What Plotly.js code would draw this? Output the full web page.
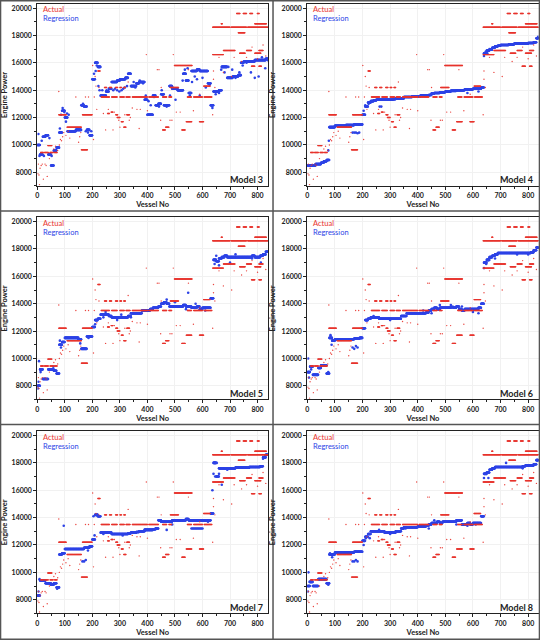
<!DOCTYPE html>
<html>
<head>
<meta charset="utf-8">
<script src="https://cdn.plot.ly/plotly-3.0.1.min.js"></script>
<style>
html,body{margin:0;padding:0;background:#fff;}
#chart{width:540px;height:640px;}
</style>
</head>
<body>
<div id="chart"></div>
<script>
// ---------------- DATA ----------------
const modelNames = ["Model 3", "Model 4", "Model 5", "Model 6", "Model 7", "Model 8"];
const vesselMax = 837;
const blockSize = 10;

// Actual engine power: runs of vessels at the same value
const actRunStart = [12, 26, 46, 62, 38, 78, 108, 164, 160, 220,
  232, 270, 300, 322, 345, 405, 455, 478, 545, 568, 606,
  244, 262, 284, 300, 314, 483,
  255, 268, 285, 325, 290, 305, 314,
  455, 466, 498, 525, 541, 589, 604, 637,
  637, 704, 764, 676, 760, 805, 735, 790, 730,
  724, 748, 772, 799, 790, 668, 778, 805];
const actRunEnd = [22, 40, 58, 72, 53, 105, 160, 199, 182, 228,
  262, 290, 316, 337, 400, 440, 470, 488, 560, 600, 634,
  252, 270, 292, 306, 320, 513,
  262, 275, 292, 335, 300, 312, 322,
  465, 478, 562, 537, 561, 604, 628, 676,
  700, 760, 837, 718, 778, 820, 755, 812, 754,
  736, 760, 782, 806, 832, 672, 790, 814];
const actRunLevel = [9450, 9450, 9450, 9450, 9950, 12200, 11300, 12200, 9650, 15400,
  13500, 13500, 13500, 13500, 13500, 13500, 13500, 13500, 13500, 13500, 13500,
  14200, 14200, 14200, 14200, 14200, 14200,
  12300, 12400, 12200, 12200, 12000, 11700, 11300,
  11100, 11300, 15800, 11100, 11700, 11700, 14300, 16600,
  18600, 18600, 18600, 16900, 16900, 16900, 16700, 16700, 18200,
  19600, 19600, 19600, 19600, 18850, 18850, 15750, 15750];
// Actual: isolated points
const actPtX = [2, 4, 6, 8, 10, 14, 18, 22, 28, 32, 36, 44, 60, 66, 74, 78, 80, 84, 88, 92,
  96, 104, 112, 118, 140, 150, 154, 158, 175, 186, 201, 204, 207, 210, 213, 216, 224, 240, 248, 258,
  275, 280, 296, 300, 318, 330, 334, 338, 345, 362, 370, 374, 396, 400, 436, 442, 448, 450, 482, 489,
  494, 505, 519, 549, 567, 590, 637, 640, 640, 645, 660, 676, 706, 715, 742, 760, 780, 800, 810, 820, 830];
const actPtY = [7900, 8600, 7800, 7100, 8300, 8500, 8600, 7500, 8600, 8500, 7700, 9000, 9700, 9900, 9600, 13900, 10000, 10400, 10300, 10600,
  10900, 10700, 11000, 10500, 13500, 10200, 10600, 10900, 13500, 13500, 15800, 10400, 13500, 15000, 14300, 12600, 14200, 12300, 11100, 12600,
  11100, 12400, 11800, 11300, 12200, 14600, 11800, 12000, 12700, 12600, 11200, 12600, 16600, 12500, 15500, 15500, 11800, 14200, 11800, 11800,
  16600, 12400, 12400, 15500, 12500, 13700, 12200, 15400, 14800, 14200, 16400, 15300, 15000, 16400, 16100, 16400, 17150, 16300, 16700, 17300, 16500];

// Regression: value for each block of 10 vessels (0-9, 10-19, ...)
const reg3 = [10000, 9300, 10600, 10700, 9300, 8500, 9600, 9800, 10900, 12500,
  12000, 11000, 11000, 11000, 11100, 11100, 12900, 12800, 11100, 10700,
  14800, 16000, 15700, 13600, 13600, 13900, 14100, 14600, 14600, 14700,
  14800, 14800, 14900, 15200, 14300, 14300, 14500, 14600, 14600, 13300,
  12200, 12200, 13600, 12900, 13000, 13700, 12900, 12900, 14300, 14100,
  14100, 14000, 14000, 15200, 14700, 13800, 15400, 15400, 15500, 15400,
  15400, 15400, 14500, 12900, 13900, 13900, 14000, 15700, 15700, 14900,
  14900, 15000, 15000, 15100, 16000, 16100, 16100, 16100, 16100, 16200,
  16200, 16200, 16200, 16300];
const reg4 = [8500, 8500, 8500, 8600, 8600, 8700, 8800, 8900, 11300, 11300,
  11400, 11400, 11400, 11400, 11450, 11450, 11450, 11500, 11500, 11500,
  12200, 12800, 13100, 13200, 13250, 13300, 13300, 13300, 13300, 13300,
  13300, 13350, 13400, 13400, 13400, 13500, 13500, 13500, 13550, 13550,
  13550, 13600, 13600, 13600, 13650, 13750, 13800, 13800, 13850, 13850,
  13900, 13900, 13950, 13950, 14000, 14000, 14000, 14050, 14050, 14050,
  14100, 14100, 14100, 14200, 16700, 16900, 16950, 17100, 17200, 17250,
  17300, 17300, 17300, 17350, 17350, 17400, 17400, 17400, 17400, 17400,
  17450, 17450, 17500, 17800];
const reg5 = [8000, 9200, 8500, 8500, 9200, 9200, 9100, 8900, 11000, 11200,
  11500, 11500, 11500, 11500, 11500, 11400, 10700, 10700, 11600, 11600,
  12300, 12800, 12900, 13200, 13200, 13200, 13100, 13000, 13000, 13000,
  13000, 13000, 13000, 13100, 13300, 13300, 13300, 13300, 13500, 13500,
  13500, 13600, 13700, 13700, 13800, 14000, 14100, 14000, 13800, 13800,
  13800, 13800, 13800, 13900, 13800, 13800, 13700, 13700, 13800, 13600,
  13700, 13700, 13700, 14400, 17200, 17100, 17300, 17400, 17500, 17400,
  17400, 17400, 17400, 17400, 17400, 17400, 17400, 17400, 17500, 17400,
  17400, 17500, 17600, 17800];
const reg6 = [9000, 9400, 8800, 8800, 9300, 9500, 9500, 8900, 11500, 11300,
  11400, 11400, 11400, 11400, 11400, 11400, 11400, 11450, 11450, 11500,
  12200, 12800, 12900, 13000, 13000, 13000, 12900, 12900, 12900, 12900,
  12900, 12900, 12900, 12900, 13100, 13100, 13300, 13300, 13300, 13300,
  13300, 13300, 13300, 13350, 13500, 13600, 13700, 13600, 13700, 13700,
  13700, 13700, 13750, 13700, 13800, 13600, 13500, 13600, 13600, 13600,
  13600, 13600, 13700, 14000, 17000, 17200, 17400, 17500, 17600, 17700,
  17700, 17700, 17700, 17700, 17700, 17700, 17700, 17700, 17700, 17700,
  17700, 17750, 17900, 18100];
const reg7 = [8300, 9400, 9400, 9200, 9200, 9100, 9200, 8900, 11300, 11400,
  11700, 11700, 11700, 11700, 11700, 11700, 11700, 11800, 11800, 11900,
  12400, 14200, 14100, 12900, 12900, 12900, 12900, 12800, 12800, 12800,
  12800, 12800, 12800, 12850, 12900, 12900, 12950, 13000, 13000, 13100,
  13100, 13100, 13150, 13200, 13800, 13700, 13700, 13700, 13700, 13800,
  13800, 13800, 13800, 13800, 13900, 13800, 13800, 13800, 13800, 13800,
  13800, 13800, 13800, 14300, 18000, 17000, 17600, 17600, 17600, 17600,
  17600, 17600, 17650, 17650, 17650, 17650, 17650, 17700, 17700, 17700,
  17700, 17750, 18400, 18600];
const reg8 = [9000, 9300, 9000, 9000, 9500, 9500, 9500, 9200, 11300, 11300,
  11450, 11450, 11450, 11450, 11450, 11450, 11450, 11500, 11500, 11500,
  12300, 12600, 12800, 13000, 13000, 13000, 13000, 13000, 12900, 12900,
  12900, 12900, 13000, 13000, 13200, 13300, 13300, 13300, 13300, 13300,
  13350, 13350, 13350, 13400, 13500, 13600, 13600, 13700, 13600, 13700,
  13700, 13700, 13700, 13700, 13800, 13800, 13500, 13500, 13600, 13500,
  13600, 13600, 13600, 14100, 17200, 17300, 17500, 17600, 17700, 17700,
  17700, 17700, 17700, 17700, 17700, 17700, 17700, 17700, 17750, 17800,
  17800, 17800, 17900, 18200];

// Regression: scattered points off the main trend
const reg3ExX = [4, 8, 16, 24, 44, 52, 82, 86, 92, 98, 104, 108, 114, 166, 176, 184, 196, 206, 212, 216, 222, 226, 236, 244, 252, 276, 282, 290, 298, 306, 312, 318, 326, 350, 356, 372, 384, 394, 404, 412, 424, 442, 452, 470, 482, 492, 502, 512, 528, 536, 546, 554, 562, 572, 580, 590, 600, 612, 626, 636, 648, 660, 668, 680, 694, 708, 720, 734, 746, 760, 776, 790, 804, 816, 828, 836];
const reg3ExY = [10800, 9200, 10300, 9200, 10500, 9200, 11200, 12200, 12700, 12400, 11700, 12300, 12200, 13000, 11000, 10900, 11000, 15200, 15400, 15800, 14300, 14000, 14000, 13600, 14000, 14000, 14100, 14000, 13900, 14000, 14100, 14200, 14300, 14600, 14200, 14700, 14500, 13600, 13200, 12900, 13500, 12800, 14000, 12800, 13600, 14200, 13300, 14000, 14700, 15500, 15600, 13600, 14600, 15000, 14800, 13600, 14900, 14200, 14400, 12700, 13700, 13800, 15500, 15300, 15700, 15500, 14900, 15300, 15800, 16000, 15300, 14900, 15000, 16400, 15600, 16200];
const reg4ExX = [164, 170, 176, 182, 188, 76, 78, 204, 210, 222, 262, 268, 640, 646, 652, 660, 836, 620, 580, 560];
const reg4ExY = [10900, 10900, 10900, 10850, 10900, 9600, 10300, 12500, 12900, 13000, 12800, 12800, 16500, 16800, 16700, 17000, 17900, 13900, 13800, 14000];
const reg5ExX = [2, 4, 6, 12, 58, 82, 86, 150, 156, 186, 210, 240, 248, 290, 305, 340, 470, 500, 540, 548, 575, 610, 644, 650, 660, 700, 720, 780, 812];
const reg5ExY = [7800, 8300, 9800, 9000, 9400, 11300, 10800, 11400, 11100, 11500, 12500, 13000, 13400, 12800, 13200, 13000, 14300, 14100, 13600, 14800, 14000, 13500, 16900, 17500, 16800, 17000, 17600, 17300, 17000];
const reg6ExX = [3, 6, 14, 76, 84, 88, 164, 170, 176, 182, 240, 300, 420, 450, 480, 520, 560, 600, 620, 640, 648, 656, 680, 760, 800];
const reg6ExY = [10000, 8600, 9200, 9000, 11700, 11000, 10800, 10700, 10900, 10800, 13100, 12800, 13500, 13300, 13900, 13900, 13800, 13400, 13300, 16600, 16900, 17200, 17300, 17600, 17600];
const reg7ExX = [4, 8, 72, 96, 164, 170, 176, 184, 204, 208, 216, 240, 310, 390, 430, 470, 490, 540, 560, 564, 568, 572, 576, 580, 584, 588, 592, 596, 600, 620, 636, 640, 646, 652, 660, 670, 690, 820, 828];
const reg7ExY = [8600, 9500, 8800, 13400, 10800, 10800, 10900, 11600, 14100, 12700, 14200, 12800, 12700, 13100, 13200, 13100, 13500, 13900, 13200, 13200, 13200, 13200, 13200, 13200, 13200, 13200, 13200, 13200, 13200, 13700, 16000, 17200, 17000, 18000, 17200, 16400, 17500, 18300, 18500];
const reg8ExX = [2, 4, 8, 76, 82, 90, 164, 170, 176, 182, 204, 212, 226, 260, 300, 356, 440, 460, 500, 540, 580, 610, 640, 648, 656, 720, 780];
const reg8ExY = [8600, 10000, 9300, 9100, 11400, 11100, 10800, 10800, 10900, 10800, 12000, 12500, 12500, 13100, 12800, 13200, 13200, 13800, 13700, 13500, 13400, 13500, 16900, 17200, 16900, 18000, 17600];

const regBlocks = [reg3, reg4, reg5, reg6, reg7, reg8];
const regExX = [reg3ExX, reg4ExX, reg5ExX, reg6ExX, reg7ExX, reg8ExX];
const regExY = [reg3ExY, reg4ExY, reg5ExY, reg6ExY, reg7ExY, reg8ExY];

// ---------------- BUILD ----------------
const actX = [], actY = [];
for (let r = 0; r < actRunStart.length; r++) {
  for (let v = actRunStart[r]; v <= actRunEnd[r]; v++) { actX.push(v); actY.push(actRunLevel[r]); }
}
for (let i = 0; i < actPtX.length; i++) { actX.push(actPtX[i]); actY.push(actPtY[i]); }

function regSeries(k) {
  const xs = [], ys = [];
  const b = regBlocks[k];
  for (let i = 0; i < b.length; i++) {
    for (let v = i * blockSize; v < Math.min((i + 1) * blockSize, vesselMax + 1); v++) { xs.push(v); ys.push(b[i]); }
  }
  for (let i = 0; i < regExX[k].length; i++) { xs.push(regExX[k][i]); ys.push(regExY[k][i]); }
  return {xs, ys};
}

const FONT = "Lato, 'Open Sans', sans-serif";
const RED = "#e8332c";
const BLUE = "#2d43e6";
const xDomains = [[0.0691, 0.4963], [0.5691, 0.9975]];
const yDomains = [[0.7094, 0.9938], [0.3758, 0.6602], [0.0416, 0.3259]];

const traces = [];
const layout = {
  width: 540, height: 640,
  margin: {l: 0, r: 0, t: 0, b: 0},
  paper_bgcolor: "#fff", plot_bgcolor: "#fff",
  showlegend: false,
  font: {family: FONT, color: "#222"},
  annotations: [], shapes: []
};

for (let k = 0; k < 6; k++) {
  const col = k % 2, row = Math.floor(k / 2);
  const sfx = k === 0 ? "" : String(k + 1);
  const xa = "x" + sfx, ya = "y" + sfx;
  const reg = regSeries(k);
  traces.push({
    type: "scatter", mode: "markers", x: reg.xs, y: reg.ys, xaxis: xa, yaxis: ya,
    name: "Regression", marker: {color: BLUE, size: 2.6, symbol: "circle"}, hoverinfo: "skip"
  });
  traces.push({
    type: "scatter", mode: "markers", x: actX, y: actY, xaxis: xa, yaxis: ya,
    name: "Actual", marker: {color: RED, size: 1.4, symbol: "circle", opacity: 0.9}, hoverinfo: "skip"
  });
  const tickFont = {family: FONT, size: 7, color: "#222", weight: "bold"};
  const titleFont = {family: FONT, size: 7.5, color: "#222", weight: "bold"};
  layout["xaxis" + sfx] = {
    domain: xDomains[col], anchor: ya, range: [0, vesselMax + 1],
    tick0: 0, dtick: 100, ticks: "outside", ticklen: 3, tickwidth: 1, tickcolor: "#222",
    minor: {ticks: "outside", ticklen: 2, dtick: 50, tickcolor: "#222", showgrid: false},
    showline: true, mirror: true, linecolor: "#222", linewidth: 1,
    showgrid: true, gridcolor: "#f1f1f1", zeroline: false,
    tickfont: tickFont, automargin: false, tickformat: "d",
    title: {text: "Vessel No", font: titleFont, standoff: 3}
  };
  layout["yaxis" + sfx] = {
    domain: yDomains[row], anchor: xa, range: [7000, 20300],
    tick0: 0, dtick: 2000, ticks: "outside", ticklen: 3, tickwidth: 1, tickcolor: "#222",
    minor: {ticks: "outside", ticklen: 2, dtick: 1000, tickcolor: "#222", showgrid: false},
    showline: true, mirror: true, linecolor: "#222", linewidth: 1,
    showgrid: true, gridcolor: "#f1f1f1", zeroline: false,
    tickfont: tickFont, automargin: false, tickformat: "d",
    title: {text: "Engine Power", font: titleFont, standoff: 4}
  };
  layout.annotations.push(
    {xref: xa + " domain", yref: ya + " domain", x: 0.015, y: 0.967, xanchor: "left", yanchor: "middle",
     text: "Actual", showarrow: false, font: {family: FONT, size: 7.5, color: RED}},
    {xref: xa + " domain", yref: ya + " domain", x: 0.015, y: 0.918, xanchor: "left", yanchor: "middle",
     text: "Regression", showarrow: false, font: {family: FONT, size: 7.5, color: BLUE}},
    {xref: xa + " domain", yref: ya + " domain", x: 0.985, y: 0.035, xanchor: "right", yanchor: "middle",
     text: modelNames[k], showarrow: false, font: {family: FONT, size: 9, color: "#222", weight: "bold"}}
  );
}

const frame = {color: "#555", width: 1.5};
layout.shapes.push(
  {type: "rect", xref: "paper", yref: "paper", x0: 0.001, x1: 0.999, y0: 0.001, y1: 0.999, line: frame},
  {type: "line", xref: "paper", yref: "paper", x0: 0.5056, x1: 0.5056, y0: 0, y1: 1, line: frame},
  {type: "line", xref: "paper", yref: "paper", x0: 0, x1: 1, y0: 0.6703, y1: 0.6703, line: frame},
  {type: "line", xref: "paper", yref: "paper", x0: 0, x1: 1, y0: 0.3367, y1: 0.3367, line: frame}
);

Plotly.newPlot("chart", traces, layout, {displayModeBar: false, staticPlot: true});
</script>
</body>
</html>
